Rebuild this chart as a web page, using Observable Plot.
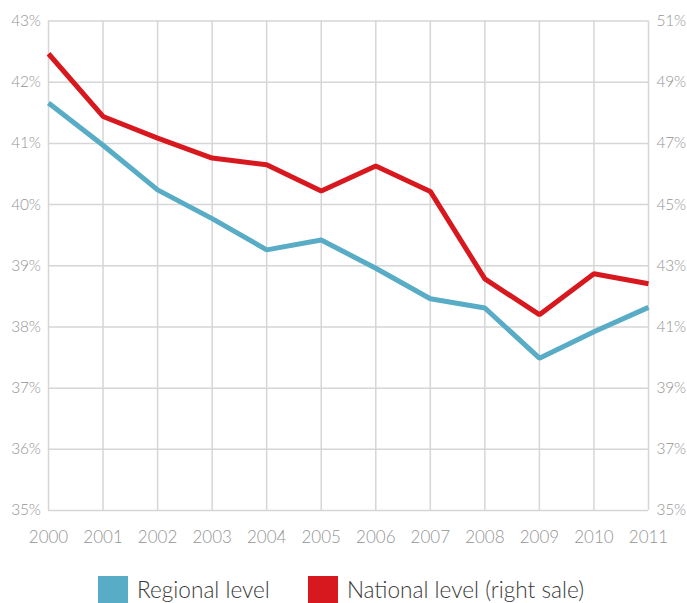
<!DOCTYPE html>
<html>
<head>
<meta charset="utf-8">
<script src="https://cdn.jsdelivr.net/npm/d3@7"></script>
<script src="https://cdn.jsdelivr.net/npm/@observablehq/plot@0.6"></script>
<style>
  html, body { margin: 0; padding: 0; background: #fff; }
  body { width: 687px; height: 603px; overflow: hidden; font-family: Lato, "Open Sans", sans-serif; }
  #chart svg { display: block; }
  #chart g[aria-label="y-axis tick label"] { font-size: 15.5px; letter-spacing: -0.3px; }
  .legend { display: flex; align-items: center; margin-left: 98px; margin-top: 28px; font-weight: 300; font-size: 22.6px; color: #3a3a3a; }
  .legend .item { display: flex; align-items: center; margin-right: 38px; }
  .legend .sw { width: 30px; height: 27px; margin-right: 9px; }
</style>
</head>
<body>
<div id="chart"></div>
<div class="legend" id="legend"></div>
<script>
// Share of the population, by year
const years = [2000, 2001, 2002, 2003, 2004, 2005, 2006, 2007, 2008, 2009, 2010, 2011];
const regional = [41.66, 40.97, 40.24, 39.77, 39.26, 39.42, 38.96, 38.46, 38.31, 37.49, 37.92, 38.32];
const national = [49.93, 47.88, 47.17, 46.52, 46.30, 45.44, 46.26, 45.43, 42.57, 41.40, 42.74, 42.41];

const leftTicks = [35, 36, 37, 38, 39, 40, 41, 42, 43];
const rightTicks = [35, 37, 39, 41, 43, 45, 47, 49, 51];

const seriesNames = ["Regional level", "National level (right sale)"];
const seriesColors = ["#58acc5", "#d7191f"];

// Right axis spans 35–51 on the same height as the left 35–43
const toLeft = v => 35 + (v - 35) / 2;
const fromLeft = v => 35 + (v - 35) * 2;

const rows = years.flatMap((year, i) => [
  {year, series: seriesNames[0], value: regional[i]},
  {year, series: seriesNames[1], value: toLeft(national[i])}
]);

const font = "Lato, 'Open Sans', sans-serif";
const tickColor = "#959595";

const plot = Plot.plot({
  width: 687,
  height: 548,
  marginLeft: 48,
  marginRight: 39,
  marginTop: 20.5,
  marginBottom: 38,
  style: {fontFamily: font, fontSize: "17px", fontWeight: 300, color: tickColor, background: "#fff"},
  x: {domain: [2000, 2011]},
  y: {domain: [35, 43]},
  color: {domain: seriesNames, range: seriesColors},
  marks: [
    Plot.gridX(years, {stroke: "#d6d6d6", strokeOpacity: 1, strokeWidth: 1.5}),
    Plot.gridY(leftTicks, {stroke: "#d6d6d6", strokeOpacity: 1, strokeWidth: 1.5}),
    Plot.axisX(years, {tickSize: 0, tickPadding: 20, tickFormat: d => String(d), label: null, fill: tickColor}),
    Plot.axisY(leftTicks, {anchor: "left", tickSize: 0, tickPadding: 8, tickFormat: d => d + "%", label: null, fill: tickColor}),
    Plot.axisY(rightTicks.map(toLeft), {anchor: "right", tickSize: 0, tickPadding: 8, tickFormat: d => fromLeft(d) + "%", label: null, fill: tickColor}),
    Plot.line(rows, {x: "year", y: "value", z: "series", stroke: "series", strokeWidth: 5, strokeLinejoin: "miter", strokeLinecap: "butt"})
  ]
});
document.getElementById("chart").appendChild(plot);

const legend = document.getElementById("legend");
seriesNames.forEach((name, i) => {
  const item = document.createElement("div");
  item.className = "item";
  const sw = document.createElement("div");
  sw.className = "sw";
  sw.style.background = seriesColors[i];
  const label = document.createElement("span");
  label.textContent = name;
  item.appendChild(sw);
  item.appendChild(label);
  legend.appendChild(item);
});
</script>
</body>
</html>
